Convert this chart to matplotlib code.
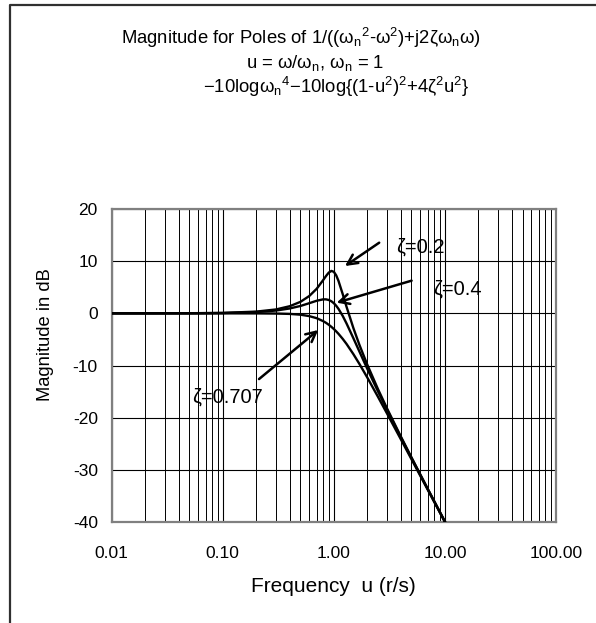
import matplotlib
matplotlib.use('Agg')
import matplotlib.pyplot as plt
from matplotlib.lines import Line2D
from matplotlib.ticker import FixedLocator, LogLocator, NullFormatter

plt.rcParams['font.family'] = ['Liberation Sans', 'DejaVu Sans']
plt.rcParams['mathtext.fontset'] = 'custom'
plt.rcParams['mathtext.rm'] = 'Liberation Sans'
plt.rcParams['mathtext.it'] = 'Liberation Sans:italic'

# frequency u (r/s) and magnitude (dB)
freq = [0.01, 0.02, 0.05, 0.1, 0.2, 0.3, 0.4, 0.5, 0.6, 0.7, 0.8, 0.85, 0.9, 0.95,
        1.0, 1.05, 1.1, 1.2, 1.3, 1.5, 1.7, 2.0, 2.5, 3.0, 4.0, 5.0, 7.0, 10.0]
mag_z02 = [0.00, 0.00, 0.02, 0.08, 0.33, 0.74, 1.36, 2.20, 3.31, 4.70, 6.35, 7.15, 7.81, 8.13,
           7.96, 7.28, 6.24, 3.73, 1.27, -2.84, -6.06, -9.84, -14.56, -18.16, -23.57, -27.63, -33.64, -39.92]
mag_z04 = [0.00, 0.00, 0.01, 0.06, 0.24, 0.53, 0.93, 1.41, 1.94, 2.41, 2.68, 2.68, 2.56, 2.31,
           1.94, 1.45, 0.87, -0.47, -1.93, -4.78, -7.34, -10.63, -14.99, -18.44, -23.72, -27.72, -33.68, -39.94]
mag_z0707 = [0.00, 0.00, 0.00, 0.00, -0.01, -0.04, -0.11, -0.26, -0.53, -0.93, -1.49, -1.82, -2.19, -2.59,
             -3.01, -3.46, -3.92, -4.88, -5.86, -7.83, -9.71, -12.30, -16.03, -19.14, -24.10, -27.97, -33.81, -40.00]

xticks = [0.01, 0.1, 1, 10, 100]
xtick_labels = ['0.01', '0.10', '1.00', '10.00', '100.00']
yticks = [20, 10, 0, -10, -20, -30, -40]

W, H = 596, 623
fig = plt.figure(figsize=(W / 100, H / 100), dpi=100)
ax = fig.add_axes([111.7 / W, 1 - 522 / H, (556 - 111.7) / W, (522 - 209) / H])

for mag in (mag_z02, mag_z04, mag_z0707):
    ax.plot(freq, mag, color='black', lw=1.7, zorder=3)

ax.set_xscale('log')
ax.set_xlim(0.01, 100)
ax.set_ylim(-40, 20)
ax.xaxis.set_major_locator(FixedLocator(xticks))
ax.set_xticklabels(xtick_labels)
ax.xaxis.set_minor_locator(LogLocator(base=10, subs=range(2, 10)))
ax.xaxis.set_minor_formatter(NullFormatter())
ax.set_yticks(yticks)
ax.set_yticklabels([str(v) for v in yticks])
ax.tick_params(which='both', length=0, labelsize=12.5)
ax.tick_params(axis='x', pad=17)
ax.tick_params(axis='y', pad=10)
ax.grid(which='major', color='black', lw=0.8)
ax.grid(which='minor', axis='x', color='black', lw=0.7)
for s in ax.spines.values():
    s.set_color('#808080')
    s.set_linewidth(1.6)

arrow = dict(arrowstyle='->', color='black', lw=1.8, mutation_scale=18, shrinkA=0, shrinkB=0)
ax.annotate('', xy=(1.26, 9.07), xytext=(2.56, 13.54), arrowprops=arrow, zorder=4)
ax.annotate('', xy=(1.06, 2.04), xytext=(5.01, 6.26), arrowprops=arrow, zorder=4)
ax.annotate('', xy=(0.724, -3.2), xytext=(0.212, -12.6), arrowprops=arrow, zorder=4)
ax.text(3.67, 12.77, 'ζ=0.2', fontsize=14.5, va='center', ha='left')
ax.text(7.8, 4.66, 'ζ=0.4', fontsize=14.5, va='center', ha='left')
ax.text(0.0525, -15.98, 'ζ=0.707', fontsize=14.5, va='center', ha='left')

fig.text(301 / W, 1 - 38 / H,
         r'Magnitude for Poles of 1/((ω$_\mathrm{n}$$^\mathrm{2}$-ω$^\mathrm{2}$)+j2ζω$_\mathrm{n}$ω)',
         fontsize=13.3, ha='center', va='center')
fig.text(315 / W, 1 - 63 / H, r'u = ω/ω$_\mathrm{n}$, ω$_\mathrm{n}$ = 1',
         fontsize=13.3, ha='center', va='center')
fig.text(336 / W, 1 - 87 / H,
         r'−10logω$_\mathrm{n}$$^\mathrm{4}$−10log{(1-u$^\mathrm{2}$)$^\mathrm{2}$+4ζ$^\mathrm{2}$u$^\mathrm{2}$}',
         fontsize=13.3, ha='center', va='center')
fig.text(333 / W, 1 - 586 / H, 'Frequency  u (r/s)', fontsize=15, ha='center', va='center')
fig.text(46 / W, 1 - 335 / H, 'Magnitude in dB', fontsize=13.2, ha='center', va='center',
         rotation=90)

# chart area border (top and left edges visible)
fig.add_artist(Line2D([9.5 / W, 9.5 / W, 1], [0, 1 - 4.5 / H, 1 - 4.5 / H],
                      transform=fig.transFigure, color='#303030', lw=1.6))

fig.savefig('out.png', dpi=100)
